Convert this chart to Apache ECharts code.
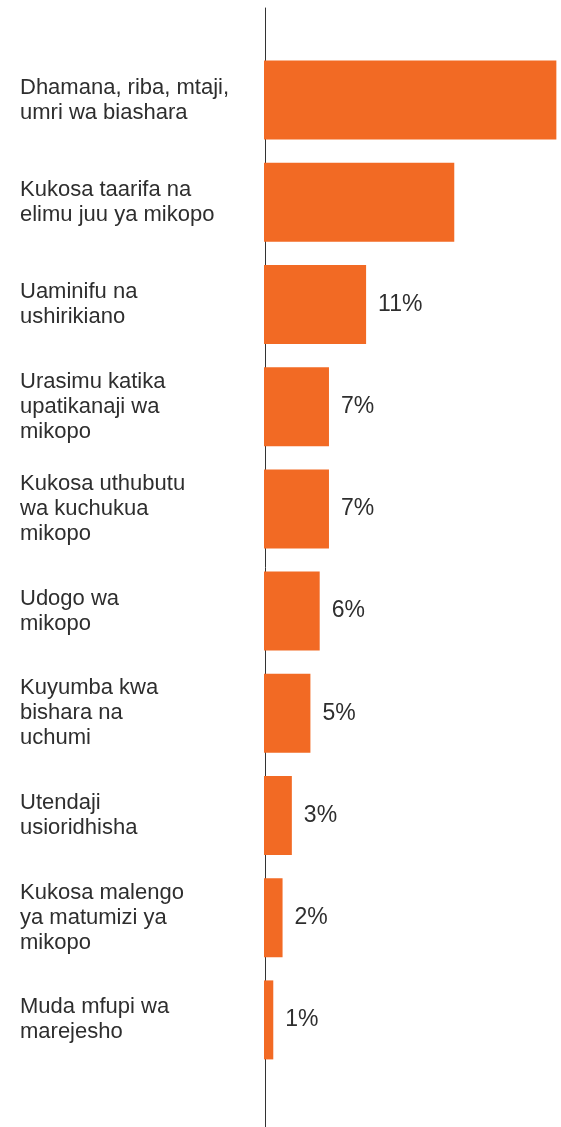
<!DOCTYPE html>
<html>
<head>
<meta charset="utf-8">
<script src="https://cdn.jsdelivr.net/npm/echarts@6/dist/echarts.min.js"></script>
<style>
  html, body { margin: 0; padding: 0; background: #fff; }
  #chart { width: 561px; height: 1127px; }
</style>
</head>
<body>
<div id="chart"></div>
<script>
// categories (top to bottom)
const categories = [
  'Dhamana, riba, mtaji,\numri wa biashara',
  'Kukosa taarifa na\nelimu juu ya mikopo',
  'Uaminifu na\nushirikiano',
  'Urasimu katika\nupatikanaji wa\nmikopo',
  'Kukosa uthubutu\nwa kuchukua\nmikopo',
  'Udogo wa\nmikopo',
  'Kuyumba kwa\nbishara na\nuchumi',
  'Utendaji\nusioridhisha',
  'Kukosa malengo\nya matumizi ya\nmikopo',
  'Muda mfupi wa\nmarejesho'
]
// percent values; first two have no printed label
const values = [31.5, 20.5, 11, 7, 7, 6, 5, 3, 2, 1]
const showLabel = [false, false, true, true, true, true, true, true, true, true]

const orange = '#f26a24'
const textColor = '#2e2e2e'
const font = '"Liberation Sans", Arial, Helvetica, sans-serif'

const chart = echarts.init(document.getElementById('chart'))

chart.setOption({
  animation: false,
  grid: [
    { left: 264, right: 0, top: 49, bottom: 56 },
    // second grid only draws the long vertical axis line
    { left: 265, right: 0, top: 8, bottom: 0 }
  ],
  xAxis: [
    { gridIndex: 0, type: 'value', min: 0, max: 32, show: false },
    { gridIndex: 1, type: 'value', min: 0, max: 1, show: false }
  ],
  yAxis: [
    {
      gridIndex: 0,
      type: 'category',
      inverse: true,
      data: categories,
      axisLine: { show: false },
      axisTick: { show: false },
      axisLabel: {
        align: 'left',
        margin: 244,
        color: textColor,
        fontFamily: font,
        fontSize: 22,
        lineHeight: 25
      }
    },
    {
      gridIndex: 1,
      type: 'value',
      min: 0,
      max: 1,
      axisLine: { show: true, lineStyle: { color: '#333', width: 1 } },
      axisTick: { show: false },
      axisLabel: { show: false },
      splitLine: { show: false }
    }
  ],
  series: [{
    type: 'bar',
    xAxisIndex: 0,
    yAxisIndex: 0,
    barWidth: 79,
    itemStyle: { color: orange },
    label: {
      position: 'right',
      distance: 12,
      color: textColor,
      fontFamily: font,
      fontSize: 23,
      formatter: '{c}%'
    },
    data: values.map((v, i) => ({ value: v, label: { show: showLabel[i] } }))
  }]
})
</script>
</body>
</html>
